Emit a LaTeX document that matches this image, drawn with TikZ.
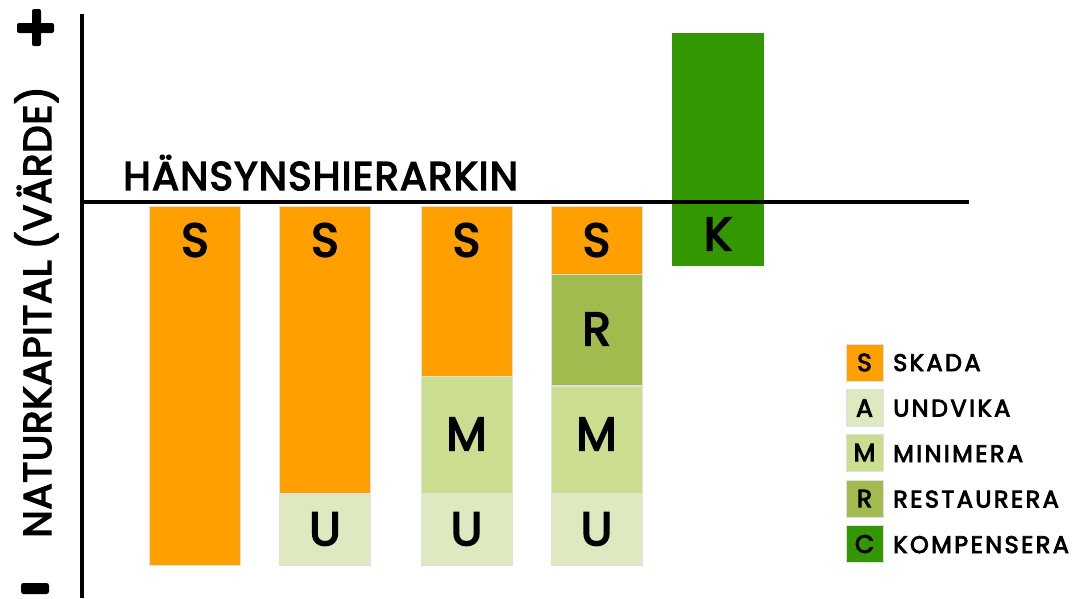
\documentclass[tikz,border=0pt]{standalone}
\usepackage{fontspec}
\setmainfont{Poppins}
\newfontfamily\med{Poppins}[FakeBold=3.5]
\newfontfamily\medtitle{Poppins}[FakeBold=3.5, LetterSpace=3]
\newfontfamily\medwide{Poppins}[FakeBold=3.5, LetterSpace=10]
\newfontfamily\medylab{Poppins}[FakeBold=3.5, LetterSpace=1.5]
\definecolor{cS}{HTML}{FFA000}
\definecolor{cU}{HTML}{DEE9BF}
\definecolor{cM}{HTML}{CBDD8F}
\definecolor{cR}{HTML}{A1BB4F}
\definecolor{cK}{HTML}{339702}
\tikzset{
  seg/.style={draw=black!12, line width=0.5pt, inner sep=0, outer sep=0, minimum width=91pt, anchor=north},
  lab/.style={inner sep=0, outer sep=0, font=\med\fontsize{47}{47}\selectfont},
  legbox/.style={draw=black!12, line width=0.5pt, inner sep=0, minimum width=37pt, minimum height=37pt, font=\med\fontsize{25}{25}\selectfont},
  legtext/.style={inner sep=0, anchor=base west, font=\medwide\fontsize{24}{24}\selectfont},
  axis/.style={line width=4pt, black}
}
\begin{document}
\begin{tikzpicture}[x=1pt,y=-1pt]
\useasboundingbox (0,0) rectangle (1075,598);
% bars
\node[seg, fill=cS, minimum height=359pt] (b1s) at (195,206) {};
\node[seg, fill=cS, minimum height=287pt] (b2s) at (325,206) {};
\node[seg, fill=cU, minimum height=72pt] (b2u) at (325,493) {};
\node[seg, fill=cS, minimum height=170pt] (b3s) at (466.5,206) {};
\node[seg, fill=cM, minimum height=117pt] (b3m) at (466.5,376) {};
\node[seg, fill=cU, minimum height=72pt] (b3u) at (466.5,493) {};
\node[seg, fill=cS, minimum height=68pt] (b4s) at (596.5,206) {};
\node[seg, fill=cR, minimum height=111pt] (b4r) at (596.5,274) {};
\node[seg, fill=cM, minimum height=107pt] (b4m) at (596.5,386) {};
\node[seg, fill=cU, minimum height=72pt] (b4u) at (596.5,493) {};
\node[seg, fill=cK, draw=none, minimum width=92pt, minimum height=233pt] (bk) at (718,33) {};
% axes
\coordinate (ytop) at (82,14);
\coordinate (ybot) at (82,598);
\coordinate (xl) at (82,202);
\coordinate (xr) at (969,202);
\draw[axis] (ytop) -- (ybot);
\draw[axis] (xl) -- (xr);
% labels
\node[lab] (l1s) at (195,240) {S};
\node[lab] (l2s) at (325,240) {S};
\node[lab] (l3s) at (466.5,240) {S};
\node[lab] (l4s) at (596.5,240) {S};
\node[lab] (l2u) at (325,529) {U};
\node[lab] (l3u) at (466.5,529) {U};
\node[lab] (l4u) at (596.5,529) {U};
\node[lab] (l3m) at (466.5,434) {M};
\node[lab] (l4m) at (596.5,434) {M};
\node[lab] (l4r) at (596.5,329) {R};
\node[lab] (lk) at (718,234) {K};
% title
\node[inner sep=0, anchor=base west, font=\medtitle\fontsize{40}{40}\selectfont] (title) at (123,190) {HÄNSYNSHIERARKIN};
% y label
\node[inner sep=0, anchor=base, rotate=90, font=\medylab\fontsize{39}{39}\selectfont] (ylab) at (51,312) {NATURKAPITAL (VÄRDE)};
% plus / minus
\fill[rounded corners=2pt] (17,23) rectangle (54,33);
\fill[rounded corners=2pt] (32,9) rectangle (41,46);
\fill[rounded corners=2.5pt] (21,583) rectangle (49,594);
% legend
\node[legbox, fill=cS] (kS) at (864.5,362.5) {S};
\node[legbox, fill=cU] (kA) at (864.5,408) {A};
\node[legbox, fill=cM] (kM) at (864.5,452.5) {M};
\node[legbox, fill=cR] (kR) at (864.5,498.5) {R};
\node[legbox, fill=cK] (kC) at (864.5,544) {C};
\node[legtext] (tS) at (893,371) {SKADA};
\node[legtext] (tA) at (893,416.5) {UNDVIKA};
\node[legtext] (tM) at (893,462) {MINIMERA};
\node[legtext] (tR) at (893,507.5) {RESTAURERA};
\node[legtext] (tC) at (893,553) {KOMPENSERA};
\end{tikzpicture}
\end{document}
